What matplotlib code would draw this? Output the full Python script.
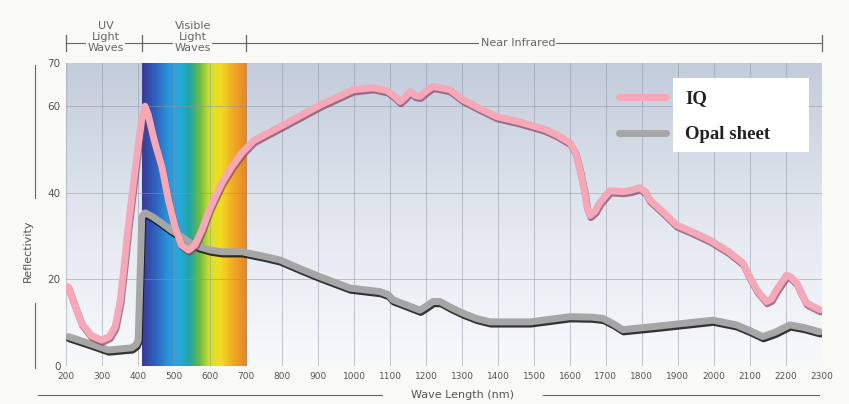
import numpy as np
import matplotlib.pyplot as plt
import matplotlib.patheffects as pe
from matplotlib.colors import LinearSegmentedColormap
from matplotlib.patches import Rectangle

# wavelengths (nm) and reflectivity
iq_nm = [206, 220, 243, 270, 299, 320, 336, 350, 362, 372, 385, 400, 410, 419, 428, 445,
         466, 485, 503, 520, 540, 558, 577, 600, 632, 660, 688, 720, 753, 794, 850, 906,
         950, 997, 1053, 1092, 1110, 1128, 1140, 1156, 1170, 1183, 1200, 1219, 1239, 1267,
         1303, 1350, 1397, 1450, 1489, 1530, 1564, 1600, 1615, 1628, 1640, 1647, 1656, 1670,
         1683, 1711, 1747, 1770, 1794, 1810, 1822, 1860, 1896, 1940, 1989, 2040, 2081, 2100,
         2119, 2146, 2160, 2174, 2202, 2215, 2230, 2257, 2294]
iq_val = [18.3, 15.0, 9.9, 7.0, 6.0, 6.8, 9.1, 15.0, 24.0, 32.0, 41.0, 51.0, 57.0, 60.0, 58.0, 52.0,
          46.0, 38.0, 32.0, 28.0, 26.8, 28.0, 31.4, 36.5, 42.2, 46.0, 49.2, 52.0, 53.5, 55.3, 57.8, 60.3,
          62.0, 63.8, 64.3, 63.6, 62.5, 61.1, 62.0, 63.4, 62.5, 62.3, 63.5, 64.6, 64.3, 63.8,
          61.5, 59.5, 57.6, 56.6, 55.7, 54.7, 53.4, 51.6, 49.5, 45.3, 40.5, 36.8, 34.8, 35.8,
          37.7, 40.5, 40.3, 40.6, 41.2, 40.2, 38.4, 35.5, 32.6, 31.0, 29.1, 26.5, 23.8, 20.5,
          17.6, 14.9, 15.5, 17.6, 21.0, 20.5, 19.2, 14.6, 13.0]

opal_nm = [206, 261, 317, 382, 395, 400, 405, 410, 419, 440, 466, 490, 521, 545, 567, 600,
           632, 688, 753, 794, 850, 906, 989, 1072, 1095, 1108, 1146, 1183, 1200, 1219, 1239,
           1270, 1303, 1340, 1378, 1489, 1600, 1660, 1692, 1720, 1747, 1831, 1920, 1997, 2063,
           2100, 2136, 2170, 2211, 2250, 2294]
opal_val = [6.8, 5.3, 3.7, 4.2, 5.0, 6.0, 20.0, 34.5, 35.4, 34.5, 33.0, 31.5, 29.9, 28.5, 27.6, 26.8,
            26.4, 26.4, 25.3, 24.5, 22.5, 20.6, 18.0, 17.2, 16.5, 15.3, 14.1, 12.9, 13.8, 14.9, 14.9,
            13.5, 12.2, 11.0, 10.2, 10.2, 11.4, 11.3, 11.0, 9.8, 8.4, 9.1, 9.9, 10.6, 9.5,
            8.2, 6.8, 7.8, 9.5, 8.9, 7.9]

x_ticks = list(range(200, 2301, 100))
y_ticks = [0, 20, 40, 60, 70]
bands = [("UV\nLight\nWaves", 200, 410, 310), ("Visible\nLight\nWaves", 410, 700, 552),
         ("Near Infrared", 700, 2300, 1455)]

fig = plt.figure(figsize=(8.49, 4.04), dpi=100, facecolor='#f9f9f6')
ax = fig.add_axes([0.078, 0.094, 0.89, 0.75])
ax.set_xlim(200, 2300)
ax.set_ylim(0, 70)

# background gradient
bg = LinearSegmentedColormap.from_list('bg', ['#f8f9fb', '#e2e7ef', '#c3ccdb'])
ax.imshow(np.linspace(0, 1, 256).reshape(-1, 1)[::-1], cmap=bg, aspect='auto',
          extent=[200, 2300, 0, 70], zorder=0)

# visible spectrum
spec = LinearSegmentedColormap.from_list('spec', [
    (0.0, '#3a3b95'), (0.12, '#2f5fbb'), (0.25, '#2a94da'), (0.35, '#27a9de'),
    (0.45, '#1fa6a6'), (0.55, '#6cbb45'), (0.65, '#d8e22a'), (0.75, '#f2dc22'),
    (0.88, '#f0a726'), (1.0, '#e5852a')])
ax.imshow(np.linspace(0, 1, 256).reshape(1, -1), cmap=spec, aspect='auto',
          extent=[410, 700, 0, 70], zorder=1)

for x in x_ticks:
    ax.axvline(x, color='#8d93a3', lw=0.6, alpha=0.6, zorder=2)
for y in [20, 40, 60]:
    ax.axhline(y, color='#8d93a3', lw=0.6, alpha=0.6, zorder=2)

l1, = ax.plot(iq_nm, iq_val, color='#f5a8b8', lw=5, solid_capstyle='round', solid_joinstyle='round',
              zorder=4, label='IQ',
              path_effects=[pe.SimpleLineShadow(offset=(0.6, -1.6), shadow_color='#8a3f62', alpha=0.7),
                            pe.Normal()])
l2, = ax.plot(opal_nm, opal_val, color='#a6a6a6', lw=5, solid_capstyle='round', solid_joinstyle='round',
              zorder=3, label='Opal sheet',
              path_effects=[pe.SimpleLineShadow(offset=(0.6, -1.6), shadow_color='#111111', alpha=0.85),
                            pe.Normal()])

ax.set_xticks(x_ticks)
ax.set_xticklabels([str(t) for t in x_ticks], fontsize=6.5, color='#555555')
ax.set_yticks(y_ticks)
ax.set_yticklabels([str(t) for t in y_ticks], fontsize=7.5, color='#555555')
ax.tick_params(length=0, pad=4)
for s in ax.spines.values():
    s.set_visible(False)

# legend
ax.add_patch(Rectangle((0.803, 0.706), 0.18, 0.244, transform=ax.transAxes,
                       facecolor='white', edgecolor='none', zorder=5))
leg = ax.legend(loc='upper left', bbox_to_anchor=(0.722, 0.935), frameon=False,
                handlelength=2.5, handletextpad=1.0, labelspacing=1.0, borderaxespad=0,
                prop={'family': 'Liberation Serif', 'weight': 'bold', 'size': 13.5})
leg.set_zorder(6)
for h in leg.get_lines():
    h.set_linewidth(5)
    h.set_path_effects([])
for t in leg.get_texts():
    t.set_color('#222222')

# axis titles with bracket lines
fig.text(0.033, 0.38, 'Reflectivity', rotation=90, ha='center', va='center', fontsize=8, color='#555555')
fig.add_artist(plt.Line2D([0.041, 0.041], [0.51, 0.84], color='#666666', lw=0.8))
fig.add_artist(plt.Line2D([0.041, 0.041], [0.09, 0.25], color='#666666', lw=0.8))
fig.text(0.545, 0.022, 'Wave Length (nm)', ha='center', va='center', fontsize=8, color='#555555')
fig.add_artist(plt.Line2D([0.045, 0.45], [0.022, 0.022], color='#666666', lw=0.8))
fig.add_artist(plt.Line2D([0.64, 0.965], [0.022, 0.022], color='#666666', lw=0.8))

# spectral band brackets above the plot
trans = ax.get_xaxis_transform()
ybr = 1.066
for i, (name, x0, x1, xm) in enumerate(bands):
    ax.plot([x0, x1], [ybr, ybr], color='#666666', lw=0.8, transform=trans, clip_on=False)
    ax.text(xm, 1.086 if i < 2 else ybr, name, transform=trans, ha='center', va='center',
            fontsize=8, color='#666666', linespacing=1.15,
            bbox=dict(facecolor='#f9f9f6', edgecolor='none', pad=1.0))
for x in [200, 410, 700, 2300]:
    ax.plot([x, x], [ybr - 0.025, ybr + 0.025], color='#666666', lw=0.9, transform=trans, clip_on=False)

fig.savefig('out.png', dpi=100, facecolor=fig.get_facecolor())
